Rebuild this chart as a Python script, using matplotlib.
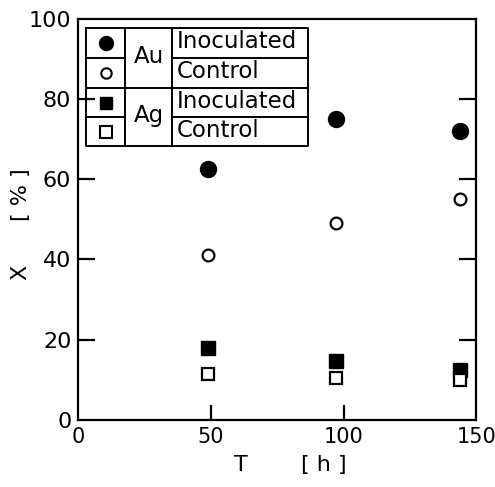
import matplotlib.pyplot as plt

# Data
t_hours = [49, 97, 144]
au_inoculated = [62.5, 75.0, 72.0]
au_control = [41.0, 49.0, 55.0]
ag_inoculated = [18.0, 14.8, 12.5]
ag_control = [11.5, 10.5, 10.0]

plt.rcParams['font.family'] = 'DejaVu Sans'

fig = plt.figure(figsize=(4.95, 4.87), dpi=100)
ax = fig.add_axes([0.158, 0.1376, 0.804, 0.824])

# Points
ax.plot(t_hours, au_inoculated, 'o', color='black', markersize=11.5)
ax.plot(t_hours, au_control, 'o', markerfacecolor='white', markeredgecolor='black',
        markersize=8.5, markeredgewidth=1.6)
ax.plot(t_hours, ag_inoculated, 's', color='black', markersize=9.5)
ax.plot(t_hours, ag_control, 's', markerfacecolor='white', markeredgecolor='black',
        markersize=9, markeredgewidth=1.6)

ax.set_xlim(0, 150)
ax.set_ylim(0, 100)

# Ticks: inward, y on both sides, x only at 50 and 100
ax.set_xticks([0, 50, 100, 150])
ax.set_yticks([0, 20, 40, 60, 80, 100])
ax.tick_params(axis='both', direction='in', width=1.6, pad=5)
ax.tick_params(axis='y', length=12, right=True, labelsize=16)
ax.tick_params(axis='x', length=11, labelsize=15)
for tl, ticks in ((ax.xaxis.get_major_ticks(), [0, 3]), (ax.yaxis.get_major_ticks(), [0, 5])):
    for i in ticks:
        tl[i].tick1line.set_visible(False)
        tl[i].tick2line.set_visible(False)

for s in ax.spines.values():
    s.set_linewidth(1.6)

# Axis labels
fig.text(0.042, 0.44, 'X', rotation=90, fontsize=16, ha='center', va='center')
fig.text(0.042, 0.60, '[ % ]', rotation=90, fontsize=16, ha='center', va='center')
fig.text(0.487, 0.045, 'T', fontsize=16, ha='center', va='center')
fig.text(0.655, 0.045, '[ h ]', fontsize=16, ha='center', va='center')

# Legend table (axes coordinates)
x0, x1, x2, x3 = 0.020, 0.118, 0.236, 0.578
ys = [0.977, 0.902, 0.827, 0.755, 0.682]
lkw = dict(color='black', linewidth=1.4, transform=ax.transAxes, clip_on=False)
ax.plot([x0, x3, x3, x0, x0], [ys[0], ys[0], ys[4], ys[4], ys[0]], **lkw)
ax.plot([x1, x1], [ys[0], ys[4]], **lkw)
ax.plot([x2, x2], [ys[0], ys[4]], **lkw)
for i in (1, 3):
    ax.plot([x0, x1], [ys[i], ys[i]], **lkw)
    ax.plot([x2, x3], [ys[i], ys[i]], **lkw)
ax.plot([x0, x3], [ys[2], ys[2]], **lkw)

mx = (x0 + x1) / 2
mcy = [(ys[i] + ys[i + 1]) / 2 for i in range(4)]
ax.plot(mx, mcy[0], 'o', color='black', markersize=10, transform=ax.transAxes)
ax.plot(mx, mcy[1], 'o', markerfacecolor='white', markeredgecolor='black',
        markersize=7.5, markeredgewidth=1.5, transform=ax.transAxes)
ax.plot(mx, mcy[2], 's', color='black', markersize=8, transform=ax.transAxes)
ax.plot(mx, mcy[3], 's', markerfacecolor='white', markeredgecolor='black',
        markersize=8, markeredgewidth=1.5, transform=ax.transAxes)

ex = (x1 + x2) / 2
ax.text(ex, (ys[0] + ys[2]) / 2 + 0.005, 'Au', fontsize=16.5, ha='center', va='center', transform=ax.transAxes)
ax.text(ex, (ys[2] + ys[4]) / 2 + 0.005, 'Ag', fontsize=16.5, ha='center', va='center', transform=ax.transAxes)
for i, lab in enumerate(['Inoculated', 'Control', 'Inoculated', 'Control']):
    ax.text(x2 + 0.012, mcy[i] + 0.003, lab, fontsize=16.5, ha='left', va='center', transform=ax.transAxes)

fig.savefig('out.png', dpi=100, facecolor='white')
